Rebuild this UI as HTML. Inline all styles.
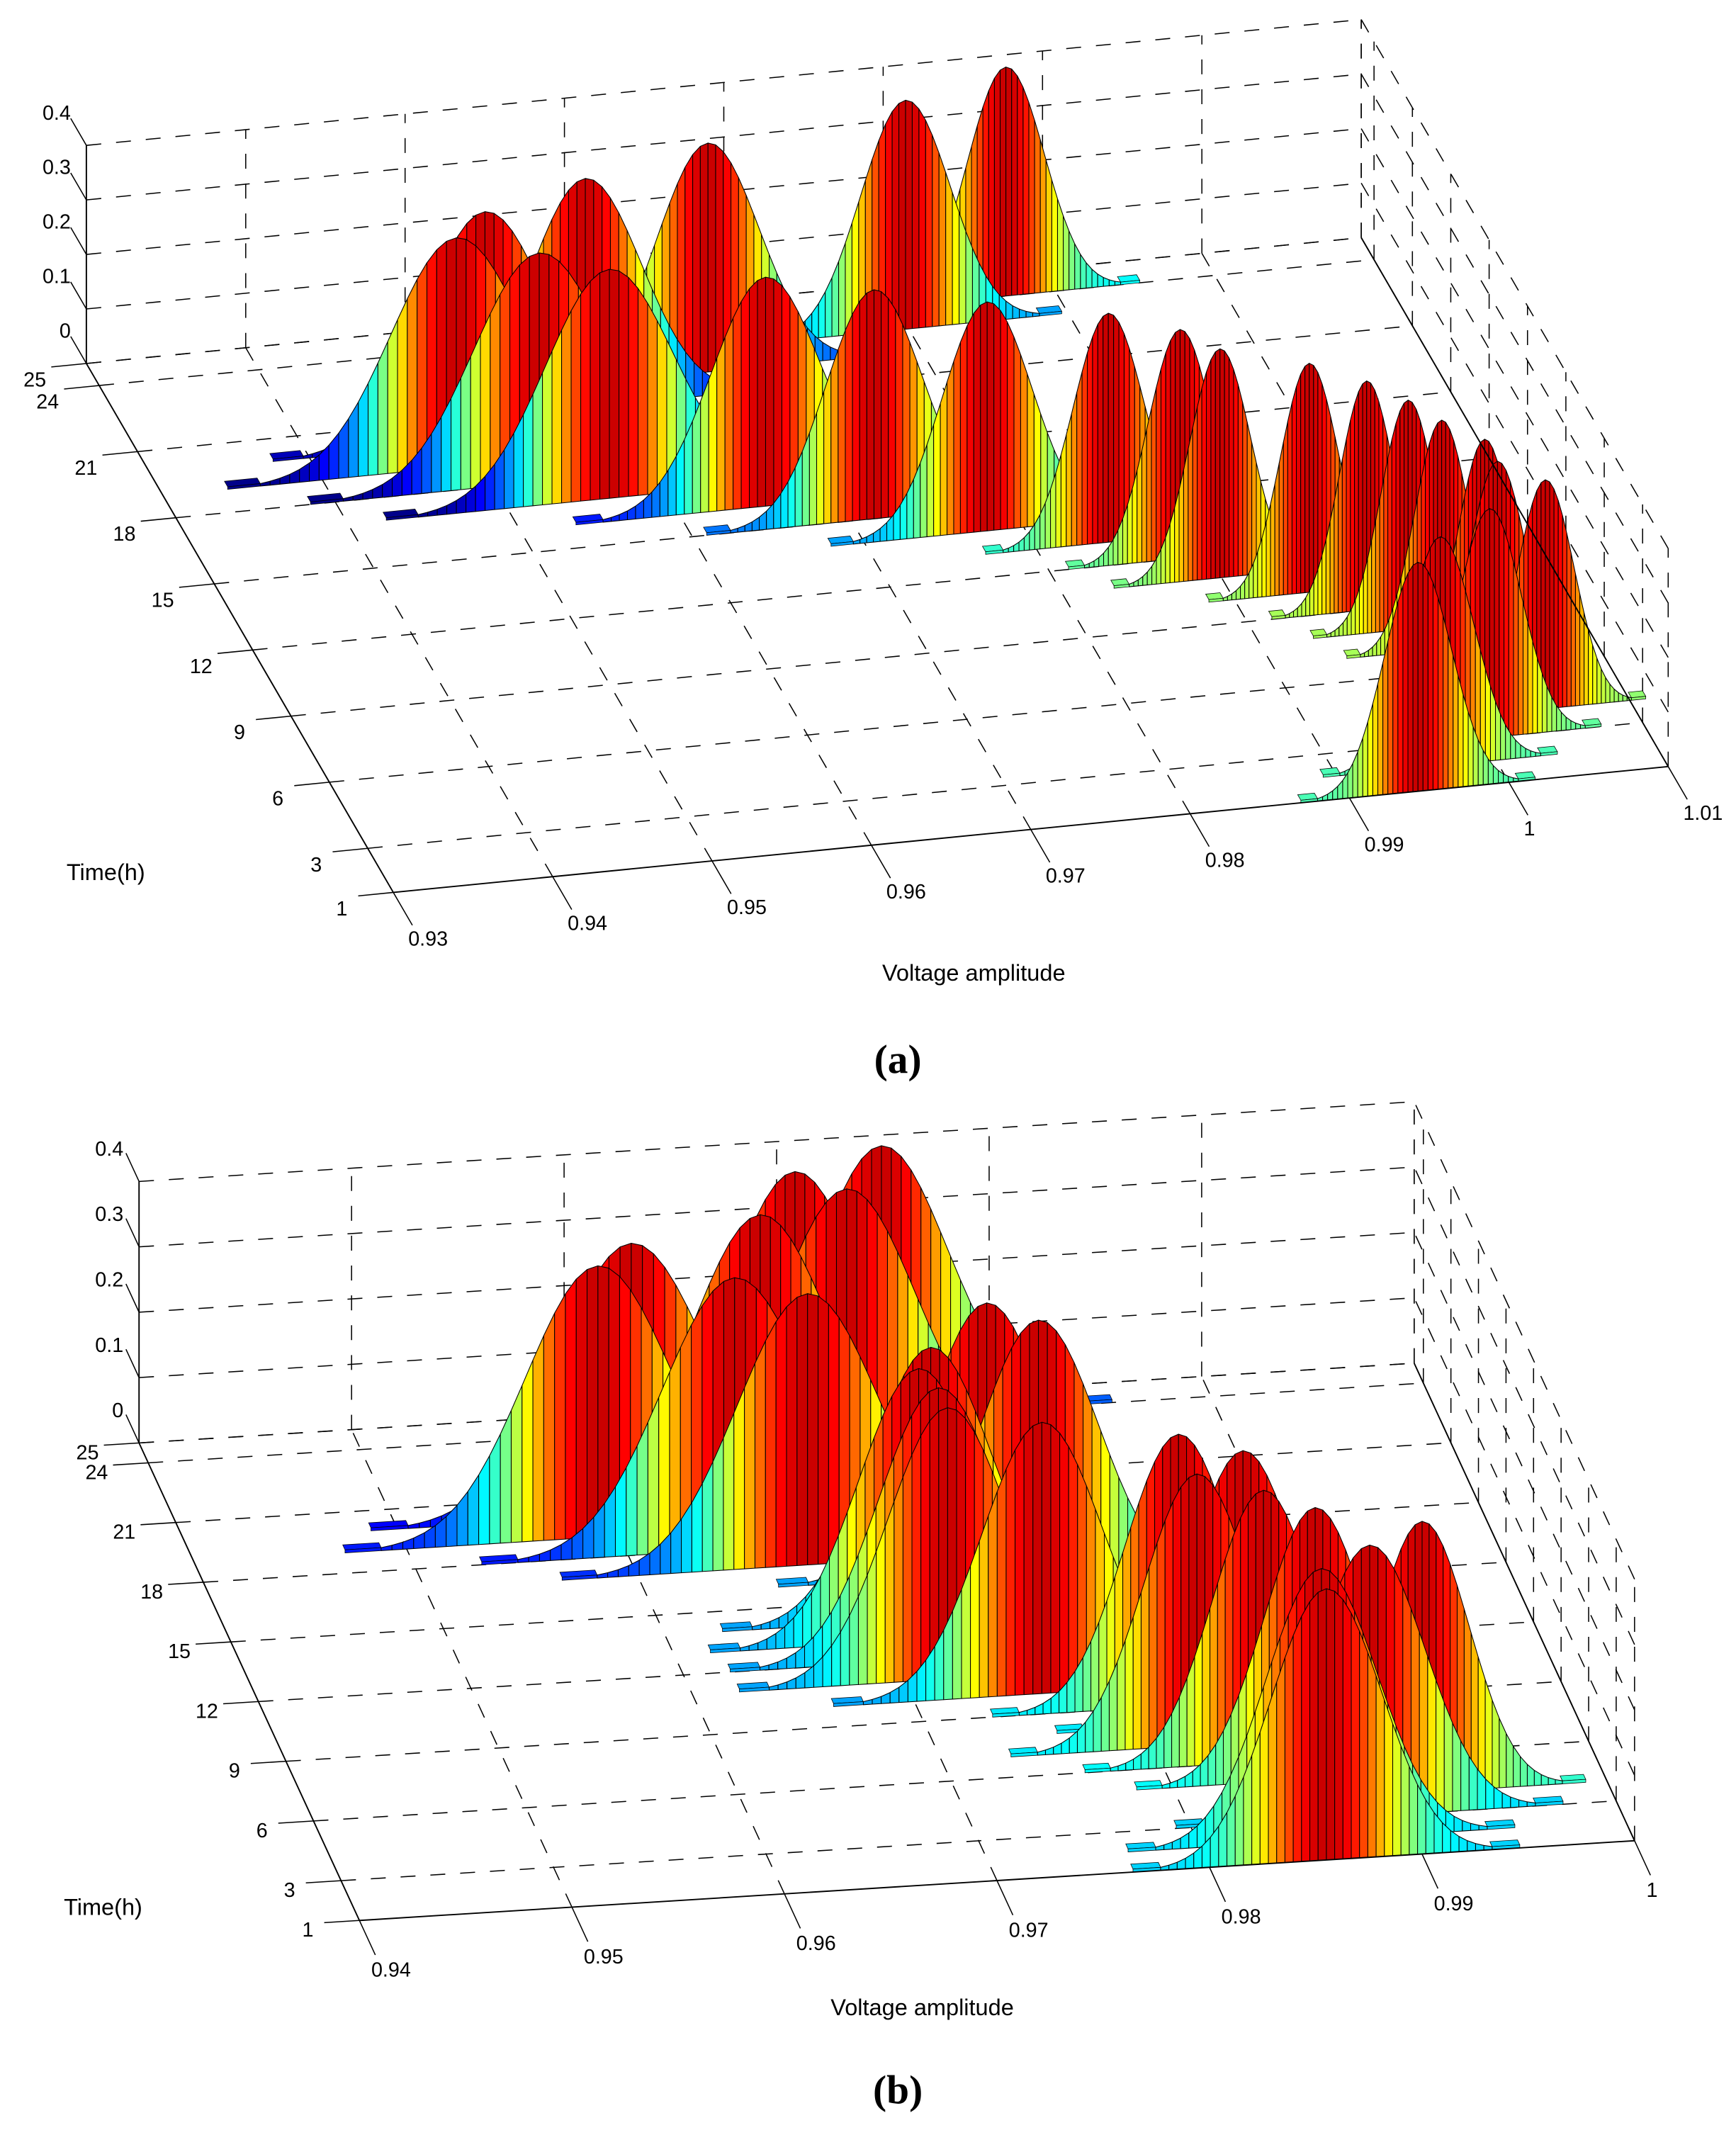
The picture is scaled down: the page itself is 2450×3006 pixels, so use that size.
<!DOCTYPE html>
<html>
<head>
<meta charset="utf-8">
<style>
html,body{margin:0;padding:0;background:#fff;}
svg{display:block;}
text{font-family:"Liberation Sans",Arial,sans-serif;fill:#000;}
.cap{font-family:"Liberation Serif","Times New Roman",serif;font-weight:bold;}
</style>
</head>
<body>
<svg id="fig" xmlns="http://www.w3.org/2000/svg" width="2450" height="3006" viewBox="0 0 1280 1570.5" preserveAspectRatio="none">
  <g id="panelA"></g>
  <g id="panelB"></g>
  <text x="78" y="649" font-size="17" text-anchor="middle">Time(h)</text>
  <text x="718" y="723" font-size="17" text-anchor="middle">Voltage amplitude</text>
  <text class="cap" x="662" y="791" font-size="30" text-anchor="middle">(a)</text>
  <text x="76" y="1412" font-size="17" text-anchor="middle">Time(h)</text>
  <text x="680" y="1486" font-size="17" text-anchor="middle">Voltage amplitude</text>
  <text class="cap" x="662" y="1551" font-size="30" text-anchor="middle">(b)</text>
</svg>
<script>
// ---- data: panel (a) ----
const hoursA = [1,2,3,4,5,6,7,8,9,10,11,12,13,14,15,16,17,18,19,20,21,22,23,24];
const meanA = [0.9943,0.9965,1.0004,1.0047,1.0025,1.0025,1.0006,0.9993,0.9975,0.9947,0.9899,0.9882,0.9845,0.9777,0.9714,0.9654,0.9564,0.9528,0.9484,0.9510,0.9581,0.9666,0.9798,0.9869];
const sigmaA = [0.0021,0.0021,0.0020,0.0018,0.0018,0.0017,0.0017,0.0017,0.0017,0.0018,0.0019,0.0020,0.0022,0.0028,0.0030,0.0034,0.0040,0.0041,0.0041,0.0038,0.0035,0.0032,0.0028,0.0024];
const peakA = [0.42,0.42,0.42,0.42,0.42,0.42,0.42,0.42,0.42,0.42,0.42,0.42,0.42,0.42,0.42,0.42,0.42,0.42,0.42,0.42,0.42,0.42,0.42,0.42];
const vTicksA = [0.93,0.94,0.95,0.96,0.97,0.98,0.99,1.00,1.01];
const vLabelsA = ["0.93","0.94","0.95","0.96","0.97","0.98","0.99","1","1.01"];
// ---- data: panel (b) ----
const hoursB = [1,2,3,4,5,6,7,8,9,10,11,12,13,14,15,16,17,18,19,20,21,22,23,24];
const meanB = [0.9855,0.9857,0.9884,0.9913,0.9867,0.9847,0.9820,0.9846,0.9820,0.9760,0.9720,0.9720,0.9715,0.9725,0.9780,0.9760,0.9680,0.9650,0.9590,0.9610,0.9675,0.9720,0.9700,0.9745];
const sigmaB = [0.0026,0.0026,0.0026,0.0022,0.0024,0.0024,0.0025,0.0025,0.0025,0.0028,0.0028,0.0028,0.0028,0.0028,0.0028,0.0028,0.0033,0.0034,0.0034,0.0035,0.0032,0.0032,0.0031,0.0031];
const peakB = [0.415,0.415,0.415,0.415,0.415,0.415,0.415,0.415,0.415,0.415,0.415,0.415,0.415,0.415,0.415,0.415,0.415,0.415,0.415,0.415,0.415,0.415,0.415,0.415];
const vTicksB = [0.94,0.95,0.96,0.97,0.98,0.99,1.00];
const vLabelsB = ["0.94","0.95","0.96","0.97","0.98","0.99","1"];
// ---- shared ticks ----
const tTicks = [1,3,6,9,12,15,18,21,24,25];
const tLabels = ["1","3","6","9","12","15","18","21","24","25"];
const pTicks = [0,0.1,0.2,0.3,0.4];
const pLabels = ["0","0.1","0.2","0.3","0.4"];

const NS = "http://www.w3.org/2000/svg";
function jet(c){
  c=Math.max(0,Math.min(1,c));
  const f=x=>Math.round(255*Math.max(0,Math.min(1,x)));
  return "rgb("+f(1.5-Math.abs(4*c-3))+","+f(1.5-Math.abs(4*c-2))+","+f(1.5-Math.abs(4*c-1))+")";
}
function mk(parent,tag,attrs){const e=document.createElementNS(NS,tag);for(const k in attrs)e.setAttribute(k,attrs[k]);parent.appendChild(e);return e;}

function drawPanel(g, P, hours, means, sigmas, peaks, vTicks, vLabels){
  const proj=(v,t,p)=>{const a=(v-P.v0)*100,b=t-1;return [P.ox+a*P.va[0]+b*P.tb[0], P.oy+a*P.va[1]+b*P.tb[1]-p*P.pz];};
  const pt=q=>q[0].toFixed(2)+","+q[1].toFixed(2);
  function seg(p1,p2,dashed,w,name){
    const l=mk(g,"line",{x1:p1[0],y1:p1[1],x2:p2[0],y2:p2[1],stroke:"#000","stroke-width":w||0.8});
    if(dashed) l.setAttribute("stroke-dasharray","11 11");
    
    
    return l;
  }
  const vmax=vTicks[vTicks.length-1], tmax=25, pmax=0.4, cmax=0.93;
  pTicks.forEach(p=>seg(proj(P.v0,tmax,p),proj(vmax,tmax,p),true,0.8,"back-wall-gridline"));
  vTicks.forEach((v,i)=>{ if(i>0) seg(proj(v,tmax,0),proj(v,tmax,pmax),true,0.8,"back-wall-vgridline"); });
  pTicks.forEach(p=>{ if(p>0) seg(proj(vmax,1,p),proj(vmax,tmax,p),true,0.8,"side-wall-gridline"); });
  tTicks.forEach(t=>seg(proj(vmax,t,0),proj(vmax,t,pmax),true,0.8,"side-wall-vgridline"));
  tTicks.forEach(t=>{ if(t>1) seg(proj(P.v0,t,0),proj(vmax,t,0),true,0.8,"floor-gridline-time"); });
  vTicks.forEach((v,i)=>{ if(i>0) seg(proj(v,1,0),proj(v,tmax,0),true,0.8,"floor-gridline-voltage"); });
  const order=hours.map((h,i)=>i).sort((a,b)=>hours[b]-hours[a]);
  order.forEach(i=>{
    const t=hours[i]+P.shift, mu=means[i], sd=sigmas[i], pk=peaks[i];
    const spread=Math.min(1,sd/0.0040);
    const cg=mk(g,"g",{});
    
    
    const N=40, lo=mu-3*sd, hi=mu+3*sd;
    const pv=v=>pk*Math.exp(-0.5*Math.pow((v-mu)/sd,2));
    const pT=pv(lo), tc=jet(cmax*(1-(1-pT/pk)*spread));
    [[lo,lo-0.5*sd],[hi,hi+0.5*sd]].forEach(([a,b])=>{
      const tl=mk(cg,"polygon",{points:[proj(a,t,pT),proj(b,t,pT),proj(b,t+0.25,pT),proj(a,t+0.25,pT)].map(pt).join(" "),fill:tc,stroke:"#000","stroke-width":0.4});
      
      
      const tf=mk(cg,"polygon",{points:[proj(a,t,0),proj(a,t,pT),proj(b,t,pT),proj(b,t,0)].map(pt).join(" "),fill:tc,stroke:"#000","stroke-width":0.4});
      
      
    });
    for(let k=0;k<N;k++){
      const v1=lo+(hi-lo)*k/N, v2=lo+(hi-lo)*(k+1)/N;
      const p1=pv(v1), p2=pv(v2);
      const c=cmax*(1-(1-((p1+p2)/2)/pk)*spread);
      const s=mk(cg,"polygon",{points:[proj(v1,t,0),proj(v1,t,p1),proj(v2,t,p2),proj(v2,t,0)].map(pt).join(" "),fill:jet(c),stroke:"#000","stroke-width":0.55,"stroke-linejoin":"round"});
      
      
    }
  });
  seg(proj(P.v0,1,0),proj(vmax,1,0),false,1,"voltage-axis-line");
  seg(proj(P.v0,1,0),proj(P.v0,tmax,0),false,1,"time-axis-line");
  seg(proj(vmax,1,0),proj(vmax,tmax,0),false,1,"right-floor-edge");
  seg(proj(P.v0,tmax,0),proj(P.v0,tmax,pmax),false,1,"probability-axis-line");
  const nrm=v=>{const L=Math.hypot(v[0],v[1]);return [v[0]/L,v[1]/L];};
  const uv=nrm(P.va), ut=nrm(P.tb);
  tTicks.forEach((t,i)=>{
    const a=proj(P.v0,t,0), b=[a[0]-26*uv[0],a[1]-26*uv[1]];
    seg(a,b,false,0.8,"time-tick");
    const tx=mk(g,"text",{x:a[0]+P.tlab[0],y:a[1]+P.tlab[1]+5,"font-size":15,"text-anchor":"middle"});
    tx.textContent=tLabels[i];
    
    
  });
  vTicks.forEach((v,i)=>{
    const a=proj(v,1,0), b=[a[0]-28*ut[0],a[1]-28*ut[1]];
    seg(a,b,false,0.8,"voltage-tick");
    const tx=mk(g,"text",{x:b[0]-3,y:b[1]+P.vlabY,"font-size":15,"text-anchor":"start"});
    tx.textContent=vLabels[i];
    
    
  });
  pTicks.forEach((p,i)=>{
    const a=proj(P.v0,tmax,p), b=[a[0]+23*ut[0],a[1]+23*ut[1]];
    seg(a,b,false,0.8,"probability-tick");
    const tx=mk(g,"text",{x:a[0]-11.5,y:a[1]-19,"font-size":15,"text-anchor":"end"});
    tx.textContent=pLabels[i];
    
    
  });
}
const PA={v0:0.93,ox:290,oy:658,va:[117.5,-11.6],tb:[-9.43,-16.25],pz:402,shift:0,tlab:[-38,12],vlabY:15};
const PB={v0:0.94,ox:265,oy:1416,va:[156.7,-9.8],tb:[-6.77,-14.67],pz:482,shift:0,tlab:[-38,7],vlabY:16};
drawPanel(document.getElementById("panelA"),PA,hoursA,meanA,sigmaA,peakA,vTicksA,vLabelsA);
drawPanel(document.getElementById("panelB"),PB,hoursB,meanB,sigmaB,peakB,vTicksB,vLabelsB);
</script>
</body>
</html>
